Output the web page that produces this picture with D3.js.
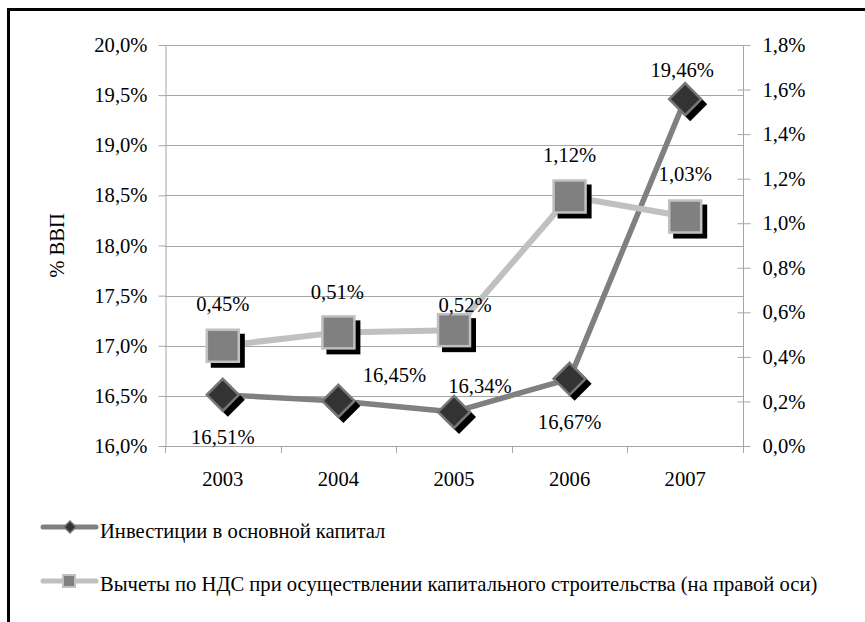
<!DOCTYPE html>
<html><head><meta charset="utf-8">
<script src="https://cdn.jsdelivr.net/npm/d3@7"></script>
<style>
html,body{margin:0;padding:0;background:#fff;}
svg{display:block;}
svg text{font-family:"Times New Roman","Liberation Serif",serif !important;}
</style></head>
<body>
<svg id="chart" width="865" height="622"></svg>
<script>
const years = ["2003","2004","2005","2006","2007"];
const invest = [16.51, 16.45, 16.34, 16.67, 19.46];
const vat = [0.45, 0.51, 0.52, 1.12, 1.03];
const leftTicks = [16.0,16.5,17.0,17.5,18.0,18.5,19.0,19.5,20.0];
const rightTicks = [0.0,0.2,0.4,0.6,0.8,1.0,1.2,1.4,1.6,1.8];
const seriesNames = ["Инвестиции в основной капитал",
  "Вычеты по НДС при осуществлении капитального строительства (на правой оси)"];
const axisTitle = "% ВВП";
// label offsets (dx, dy) relative to the marker, per point
const investLabelPos = [[0,42],[56,-26],[26,-26],[0,43],[-3,-29]];
const vatLabelPos = [[0,-42],[-1,-41],[11,-25],[0,-42],[0,-43]];

const svg = d3.select("#chart");
const FS = 20.6;
const loc = d3.formatLocale({decimal:",", thousands:" ", grouping:[3], currency:["",""]});
const fmt1 = v => loc.format(".1f")(v) + "%";
const fmt2 = v => loc.format(".2f")(v) + "%";

const L = 165, R = 743, T = 45, B = 446;
const x = d3.scaleBand().domain(years).range([L, R]);
const yL = d3.scaleLinear().domain([16, 20]).range([B, T]);
const yR = d3.scaleLinear().domain([0, 1.8]).range([B, T]);
const gridC = "#a6a6a6";

// outer border
svg.append("rect").attr("x",8.5).attr("y",9.5).attr("width",900).attr("height",700)
  .attr("fill","none").attr("stroke","#000").attr("stroke-width",3);

// gridlines
svg.append("g").selectAll("line").data(leftTicks).join("line")
  .attr("x1",L).attr("x2",R).attr("y1",d=>Math.round(yL(d))+0.5).attr("y2",d=>Math.round(yL(d))+0.5)
  .attr("stroke",gridC).attr("stroke-width",1);

// left axis
const gL = svg.append("g").attr("transform",`translate(${L+0.5},0)`)
  .call(d3.axisLeft(yL).tickValues(leftTicks).tickFormat(fmt1).tickSizeInner(7).tickSizeOuter(0).tickPadding(11));
gL.attr("font-family",null).attr("font-size",null);
gL.select(".domain").attr("stroke",gridC);
gL.selectAll(".tick line").attr("stroke",gridC);
gL.selectAll("text").attr("font-size",FS).attr("fill","#000");

// right axis
const gR = svg.append("g").attr("transform",`translate(${R+0.5},0)`)
  .call(d3.axisRight(yR).tickValues(rightTicks).tickFormat(fmt1).tickSizeInner(7).tickSizeOuter(0).tickPadding(12));
gR.attr("font-family",null).attr("font-size",null);
gR.select(".domain").attr("stroke",gridC).attr("d",`M0,${T}V${B+6}`);
gR.selectAll(".tick line").attr("stroke",gridC).attr("x1",-6);
gR.selectAll("text").attr("font-size",FS).attr("fill","#000");

// bottom axis (category labels)
const gB = svg.append("g").attr("transform",`translate(0,${B})`)
  .call(d3.axisBottom(x).tickSize(0).tickPadding(25));
gB.attr("font-family",null).attr("font-size",null);
gB.select(".domain").remove();
gB.selectAll("text").attr("font-size",FS).attr("fill","#000");
// category boundary ticks
const bounds = years.map(y=>x(y)).concat([x(years[years.length-1])+x.bandwidth()]);
svg.append("g").selectAll("line").data(bounds).join("line")
  .attr("x1",d=>Math.round(d)+0.5).attr("x2",d=>Math.round(d)+0.5)
  .attr("y1",B).attr("y2",B+7).attr("stroke",gridC);

// axis title
svg.append("text").attr("transform",`translate(57,${(T+B)/2}) rotate(-90)`)
  .attr("text-anchor","middle").attr("dy","0.35em").attr("font-size",FS).text(axisTitle);

const cx = d => x(d) + x.bandwidth()/2;
const diamond = (s) => `M0,${-s}L${s},0L0,${s}L${-s},0Z`;

// series 1 line
const line1 = d3.line().x((d,i)=>cx(years[i])).y(d=>yL(d));
svg.append("path").datum(invest).attr("d",line1).attr("fill","none")
  .attr("stroke","#808080").attr("stroke-width",5.5).attr("stroke-linejoin","round");
// series 1 markers
const m1 = svg.append("g").selectAll("g").data(invest).join("g")
  .attr("transform",(d,i)=>`translate(${cx(years[i])},${yL(d)})`);
m1.append("path").attr("d",diamond(17)).attr("transform","translate(5,5)").attr("fill","#000");
m1.append("path").attr("d",diamond(16)).attr("fill","#333333").attr("stroke","#777777").attr("stroke-width",2.5);

// series 2 line
const line2 = d3.line().x((d,i)=>cx(years[i])).y(d=>yR(d));
svg.append("path").datum(vat).attr("d",line2).attr("fill","none")
  .attr("stroke","#c0c0c0").attr("stroke-width",6).attr("stroke-linejoin","round");
const m2 = svg.append("g").selectAll("g").data(vat).join("g")
  .attr("transform",(d,i)=>`translate(${cx(years[i])},${yR(d)})`);
m2.append("rect").attr("x",-16).attr("y",-16).attr("width",34).attr("height",34)
  .attr("transform","translate(4,4)").attr("fill","#000");
m2.append("rect").attr("x",-16).attr("y",-16).attr("width",32).attr("height",32)
  .attr("fill","#808080").attr("stroke","#c0c0c0").attr("stroke-width",2.5);

// data labels
svg.append("g").selectAll("text").data(invest).join("text")
  .attr("x",(d,i)=>cx(years[i])+investLabelPos[i][0])
  .attr("y",(d,i)=>yL(d)+investLabelPos[i][1])
  .attr("dy","0.35em").attr("text-anchor","middle").attr("font-size",FS).text(d=>fmt2(d));
svg.append("g").selectAll("text").data(vat).join("text")
  .attr("x",(d,i)=>cx(years[i])+vatLabelPos[i][0])
  .attr("y",(d,i)=>yR(d)+vatLabelPos[i][1])
  .attr("dy","0.35em").attr("text-anchor","middle").attr("font-size",FS).text(d=>fmt2(d));

// legend
const lg1 = svg.append("g").attr("transform","translate(0,527)");
lg1.append("line").attr("x1",43).attr("x2",96).attr("stroke","#808080").attr("stroke-width",5).attr("stroke-linecap","round");
lg1.append("path").attr("d",diamond(6)).attr("transform","translate(70,0)").attr("fill","#333").attr("stroke","#777").attr("stroke-width",1.5);
lg1.append("text").attr("x",100).attr("y",4).attr("dy","0.32em").attr("font-size",FS).text(seriesNames[0]);
const lg2 = svg.append("g").attr("transform","translate(0,581)");
lg2.append("line").attr("x1",43).attr("x2",96).attr("stroke","#c0c0c0").attr("stroke-width",5).attr("stroke-linecap","round");
lg2.append("rect").attr("x",63).attr("y",-6).attr("width",12).attr("height",12).attr("fill","#808080").attr("stroke","#c0c0c0").attr("stroke-width",2);
lg2.append("text").attr("x",100).attr("y",3).attr("dy","0.32em").attr("font-size",FS).text(seriesNames[1]);
</script>
</body></html>
